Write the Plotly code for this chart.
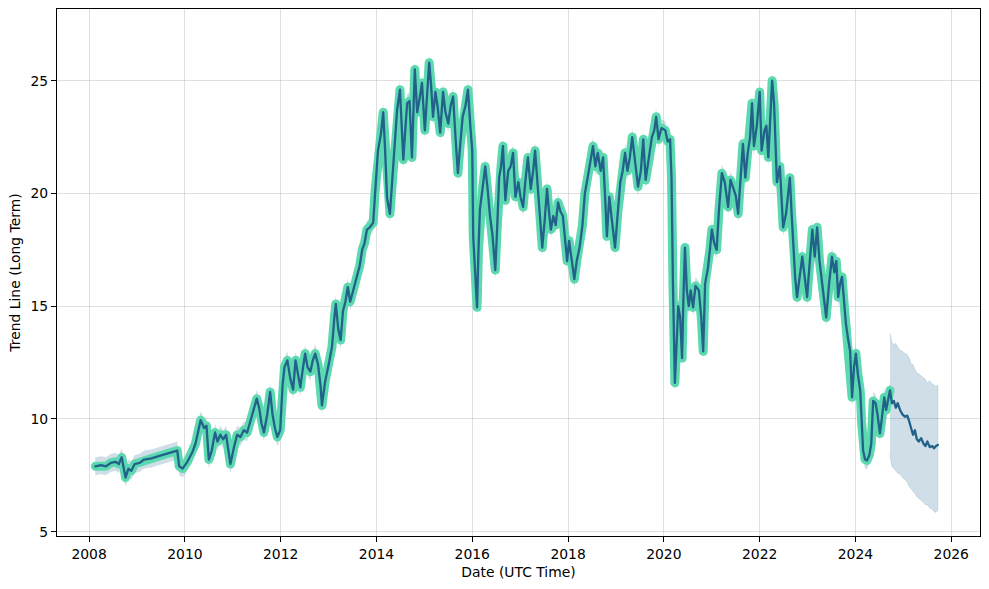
import plotly.graph_objects as go
import pandas as pd
import numpy as np

# ---- data (decimal years) ----
hist_year = [
2008.13,2008.25,2008.35,2008.45,2008.55,2008.62,2008.68,2008.72,2008.76,2008.82,2008.88,2008.95,
2009.05,2009.15,2009.3,2009.45,2009.6,2009.75,2009.84,2009.88,2009.95,
2010.05,2010.15,2010.22,2010.28,2010.33,2010.4,2010.45,2010.5,2010.56,2010.63,2010.68,2010.74,2010.8,2010.86,2010.9,2010.95,
2011.02,2011.09,2011.16,2011.23,2011.3,2011.36,2011.42,2011.5,2011.55,2011.6,2011.65,2011.72,2011.78,2011.83,2011.88,2011.93,2011.99,
2012.04,2012.08,2012.14,2012.2,2012.26,2012.31,2012.36,2012.41,2012.46,2012.51,2012.56,2012.62,2012.67,2012.72,2012.78,2012.83,2012.86,2012.93,
2013.0,2013.07,2013.12,2013.15,2013.2,2013.25,2013.3,2013.35,2013.4,2013.45,2013.5,2013.55,2013.6,2013.65,2013.7,2013.75,2013.8,2013.86,2013.93,2013.97,
2014.03,2014.09,2014.14,2014.18,2014.22,2014.28,2014.33,2014.38,2014.43,2014.49,2014.56,2014.6,2014.64,2014.69,2014.74,2014.8,2014.85,2014.9,2014.95,
2015.01,2015.06,2015.1,2015.14,2015.18,2015.23,2015.28,2015.33,2015.39,2015.44,2015.5,2015.55,2015.6,2015.65,2015.7,2015.75,2015.8,2015.86,2015.91,2015.96,
2016.0,2016.02,2016.06,2016.1,2016.13,2016.16,2016.22,2016.27,2016.32,2016.37,2016.42,2016.48,2016.52,2016.56,2016.6,2016.64,2016.69,2016.75,2016.8,2016.85,2016.9,2016.96,
2017.01,2017.06,2017.11,2017.16,2017.22,2017.27,2017.31,2017.36,2017.41,2017.46,2017.51,2017.56,2017.6,2017.64,2017.69,2017.74,2017.79,2017.84,2017.89,2017.94,2017.98,
2018.02,2018.07,2018.13,2018.18,2018.24,2018.3,2018.35,2018.4,2018.46,2018.52,2018.57,2018.62,2018.68,2018.73,2018.77,2018.81,2018.86,2018.92,2018.98,
2019.04,2019.09,2019.14,2019.19,2019.24,2019.29,2019.34,2019.4,2019.46,2019.52,2019.57,2019.62,2019.68,2019.75,2019.8,2019.84,2019.89,2019.95,
2020.03,2020.08,2020.13,2020.16,2020.19,2020.21,2020.23,2020.27,2020.3,2020.34,2020.38,2020.41,2020.44,2020.48,2020.52,2020.56,2020.61,2020.66,2020.73,2020.78,2020.82,2020.86,2020.92,2020.96,
2021.0,2021.05,2021.1,2021.15,2021.21,2021.27,2021.34,2021.39,2021.45,2021.5,2021.55,2021.6,2021.65,2021.7,2021.75,2021.8,2021.84,2021.88,2021.94,
2022.0,2022.04,2022.1,2022.14,2022.18,2022.22,2022.26,2022.3,2022.33,2022.36,2022.42,2022.47,2022.49,2022.55,2022.6,2022.63,2022.67,2022.7,2022.74,2022.78,2022.84,2022.89,2022.94,2022.99,
2023.04,2023.1,2023.15,2023.2,2023.25,2023.3,2023.35,2023.39,2023.45,2023.51,2023.56,2023.6,2023.64,2023.68,2023.72,2023.76,2023.8,2023.85,2023.89,2023.93,2023.97,
2024.01,2024.05,2024.1,2024.13,2024.16,2024.2,2024.24,2024.29,2024.33,2024.37,2024.42,2024.46,2024.51,2024.55,2024.6,2024.64,2024.68,2024.72]

hist_value = [
7.9,7.95,7.9,8.05,8.1,8.0,8.3,7.9,7.4,7.8,7.7,8.0,
8.05,8.2,8.25,8.35,8.45,8.55,8.6,7.9,7.8,
8.1,8.5,8.9,9.5,9.95,9.6,9.7,8.2,8.6,9.4,9.0,9.3,9.1,9.3,8.7,8.0,
8.7,9.3,9.2,9.5,9.4,9.9,10.3,10.9,10.5,9.8,9.4,10.2,11.2,10.2,9.6,9.2,9.5,
11.5,12.3,12.6,11.8,11.3,12.6,12.0,11.4,12.2,12.9,12.3,12.1,12.6,12.9,12.4,11.5,10.6,11.7,
12.4,13.2,14.5,15.1,14.0,13.5,14.8,15.2,15.85,15.2,15.6,16.0,16.3,16.8,17.5,17.8,18.4,18.5,18.7,20.1,
21.9,22.6,23.6,21.9,19.8,19.1,20.5,22.3,23.7,24.6,21.5,22.8,24.0,24.1,21.6,25.5,23.6,24.2,24.9,
22.8,24.6,25.8,24.8,23.4,24.5,23.8,22.7,24.5,23.6,23.1,23.9,24.3,22.5,20.9,22.2,23.4,23.9,24.6,23.0,
21.9,18.1,16.5,14.95,17.5,19.3,20.3,21.2,20.2,19.0,18.2,16.6,18.5,20.7,21.2,22.1,19.7,21.0,21.2,21.8,19.85,20.5,
19.8,19.4,20.6,21.6,20.2,21.0,21.9,20.5,19.2,17.6,18.8,20.2,19.2,18.4,19.0,18.6,19.6,19.2,19.0,17.8,17.0,
17.9,17.2,16.2,17.0,17.6,18.6,20.0,20.6,21.4,22.1,21.2,21.8,21.0,21.6,20.0,18.1,19.85,18.6,17.6,
19.2,20.5,21.0,21.8,21.0,21.6,22.5,21.5,20.3,21.0,22.4,20.6,21.5,22.5,22.8,23.4,22.4,22.9,
22.8,22.3,22.4,20.7,16.0,13.0,11.6,13.5,15.0,14.5,12.7,15.5,17.6,15.7,15.0,15.7,14.95,15.9,15.7,14.5,13.0,16.0,16.7,17.5,
18.4,17.8,17.5,19.3,20.9,20.5,19.4,20.6,20.2,19.9,19.1,20.8,22.2,20.7,21.8,22.5,24.0,22.1,23.0,
24.5,21.9,22.8,23.0,21.6,23.5,25.0,24.0,22.4,20.5,21.2,19.5,18.5,19.1,20.0,20.7,19.0,17.6,16.3,15.4,16.5,17.2,16.3,15.4,
16.8,18.4,17.2,18.5,17.0,16.0,15.3,14.5,16.0,17.2,16.5,17.0,15.4,16.0,16.3,15.2,14.25,13.5,13.0,10.96,12.3,
12.9,12.0,11.27,9.8,8.6,8.2,8.16,8.4,8.9,10.8,10.7,10.2,9.36,10.0,10.96,10.4,10.9,11.27]

hist_band_half = 0.4  # half-width of the historical uncertainty band

fc_year = [2024.72,2024.76,2024.8,2024.84,2024.88,2024.93,2024.98,2025.03,2025.08,2025.12,2025.16,2025.2,
           2025.24,2025.28,2025.32,2025.37,2025.42,2025.46,2025.5,2025.55,2025.6,2025.64,2025.68,2025.72]
fc_value = [11.2,10.7,10.8,10.5,10.7,10.4,10.2,10.1,10.15,9.9,9.55,9.3,
            9.5,9.1,9.0,9.15,8.9,8.8,9.0,8.75,8.8,8.7,8.8,8.85]
fc_upper = [13.8,13.4,13.3,13.35,13.2,13.05,13.0,12.9,12.85,12.7,12.45,12.4,
            12.2,12.05,12.0,11.9,11.8,11.75,11.6,11.7,11.55,11.5,11.45,11.5]
fc_lower = [8.4,7.9,7.8,7.7,7.6,7.55,7.4,7.3,7.2,7.0,6.85,6.8,
            6.7,6.55,6.5,6.4,6.3,6.2,6.2,6.05,6.0,5.9,5.85,5.95]

x_tick_years = [2008, 2010, 2012, 2014, 2016, 2018, 2020, 2022, 2024, 2026]
y_ticks = [5, 10, 15, 20, 25]


def to_date(years):
    out = []
    for y in years:
        yi = int(np.floor(y))
        start = pd.Timestamp(year=yi, month=1, day=1)
        end = pd.Timestamp(year=yi + 1, month=1, day=1)
        out.append(start + (end - start) * (y - yi))
    return out


hx = to_date(hist_year)
fx = to_date(fc_year)
h_up = [v + hist_band_half for v in hist_value]
h_lo = [v - hist_band_half for v in hist_value]

band_col = "rgba(35,99,140,0.21)"
fig = go.Figure()
fig.add_trace(go.Scatter(x=hx + hx[::-1], y=h_up + h_lo[::-1], fill="toself",
                         fillcolor=band_col, line=dict(width=0), mode="lines",
                         hoverinfo="skip", showlegend=False))
fig.add_trace(go.Scatter(x=fx + fx[::-1], y=fc_upper + fc_lower[::-1], fill="toself",
                         fillcolor=band_col, line=dict(width=1, color="rgba(35,99,140,0.15)"),
                         mode="lines", hoverinfo="skip", showlegend=False))
fig.add_trace(go.Scatter(x=hx, y=hist_value, mode="lines",
                         line=dict(color="#5cd9b0", width=9), showlegend=False))
fig.add_trace(go.Scatter(x=hx + fx[1:], y=hist_value + fc_value[1:], mode="lines",
                         line=dict(color="#21618a", width=2.3), showlegend=False))

font = dict(family="DejaVu Sans", size=13.9, color="black")
fig.update_layout(
    width=989, height=589,
    margin=dict(l=57, r=9, t=9, b=53),
    paper_bgcolor="white", plot_bgcolor="white",
    font=font,
    xaxis=dict(
        type="date",
        range=to_date([2007.33, 2026.6]),
        tickvals=to_date(x_tick_years),
        ticktext=[str(y) for y in x_tick_years],
        showgrid=True, gridcolor="rgba(176,176,176,0.4)", gridwidth=1,
        showline=True, linecolor="black", linewidth=1.2, mirror=True,
        ticks="outside", ticklen=5, tickcolor="black", tickwidth=1,
        zeroline=False,
        title=dict(text="Date (UTC Time)", standoff=6, font=font),
    ),
    yaxis=dict(
        range=[4.81, 28.18],
        tickvals=y_ticks,
        showgrid=True, gridcolor="rgba(176,176,176,0.4)", gridwidth=1,
        showline=True, linecolor="black", linewidth=1.2, mirror=True,
        ticks="outside", ticklen=5, tickcolor="black", tickwidth=1,
        zeroline=False,
        title=dict(text="Trend Line (Long Term)", standoff=6, font=font),
    ),
)

round_joins = """
var gd = document.getElementById('{plot_id}');
function rj(){ gd.querySelectorAll('.scatterlayer path.js-line').forEach(function(p){
  p.style.strokeLinejoin='round'; p.style.strokeLinecap='round'; }); }
rj(); gd.on('plotly_afterplot', rj);
"""
fig.write_html("out.html", post_script=round_joins)
